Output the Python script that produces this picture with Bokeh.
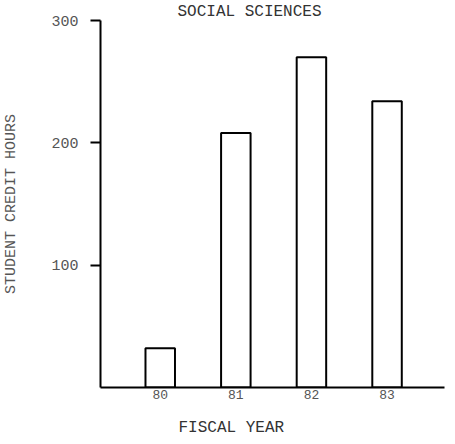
from bokeh.plotting import figure
from bokeh.models import Range1d, FixedTicker, Title
from bokeh.embed import file_html
from bokeh.resources import INLINE

years = [80, 81, 82, 83]
year_labels = ["80", "81", "82", "83"]
hours = [32, 208, 270, 234]
y_ticks = [100, 200, 300]

FONT = "Liberation Mono"

p = figure(width=446, height=436, output_backend="svg", toolbar_location=None,
           x_range=Range1d(79.21, 83.76), y_range=Range1d(0, 300),
           min_border_left=93, min_border_right=2, min_border_top=0, min_border_bottom=48)

p.vbar(x=years, top=hours, width=0.39, fill_color="white", line_color="black", line_width=2)

p.title = Title(text="SOCIAL SCIENCES", align="left", offset=77, text_font=FONT,
                text_font_size="16px", text_font_style="normal", text_color="#333333",
                standoff=0)

p.add_layout(Title(text="FISCAL YEAR", align="left", offset=78, text_font=FONT,
                   text_font_size="16px", text_font_style="normal", text_color="#333333",
                   standoff=0), "below")

p.xaxis.ticker = FixedTicker(ticks=years)
p.xaxis.major_label_overrides = {y: l for y, l in zip(years, year_labels)}
p.xaxis.major_tick_out = 0
p.xaxis.major_tick_in = 0
p.xaxis.minor_tick_out = 0
p.xaxis.minor_tick_in = 0
p.xaxis.axis_line_width = 2
p.xaxis.major_label_text_font = FONT
p.xaxis.major_label_text_font_size = "13px"
p.xaxis.major_label_text_color = "#555555"
p.xaxis.major_label_standoff = 2
p.xaxis.axis_label = " "
p.xaxis.axis_label_text_font_size = "4px"
p.xaxis.axis_label_standoff = 7

p.yaxis.ticker = FixedTicker(ticks=y_ticks)
p.yaxis.major_tick_out = 10
p.yaxis.major_tick_in = 0
p.yaxis.minor_tick_out = 0
p.yaxis.minor_tick_in = 0
p.yaxis.major_tick_line_width = 2
p.yaxis.axis_line_width = 2
p.yaxis.major_label_orientation = "horizontal"
p.yaxis.major_label_text_font = FONT
p.yaxis.major_label_text_font_size = "15px"
p.yaxis.major_label_text_color = "#555555"
p.yaxis.major_label_standoff = 12
p.yaxis.axis_label = "STUDENT CREDIT HOURS"
p.yaxis.axis_label_text_font = FONT
p.yaxis.axis_label_text_font_size = "15px"
p.yaxis.axis_label_text_font_style = "normal"
p.yaxis.axis_label_text_color = "#555555"
p.yaxis.axis_label_standoff = 28

p.xgrid.visible = False
p.ygrid.visible = False
p.outline_line_color = None

open("out.html", "w").write(file_html(p, INLINE))
